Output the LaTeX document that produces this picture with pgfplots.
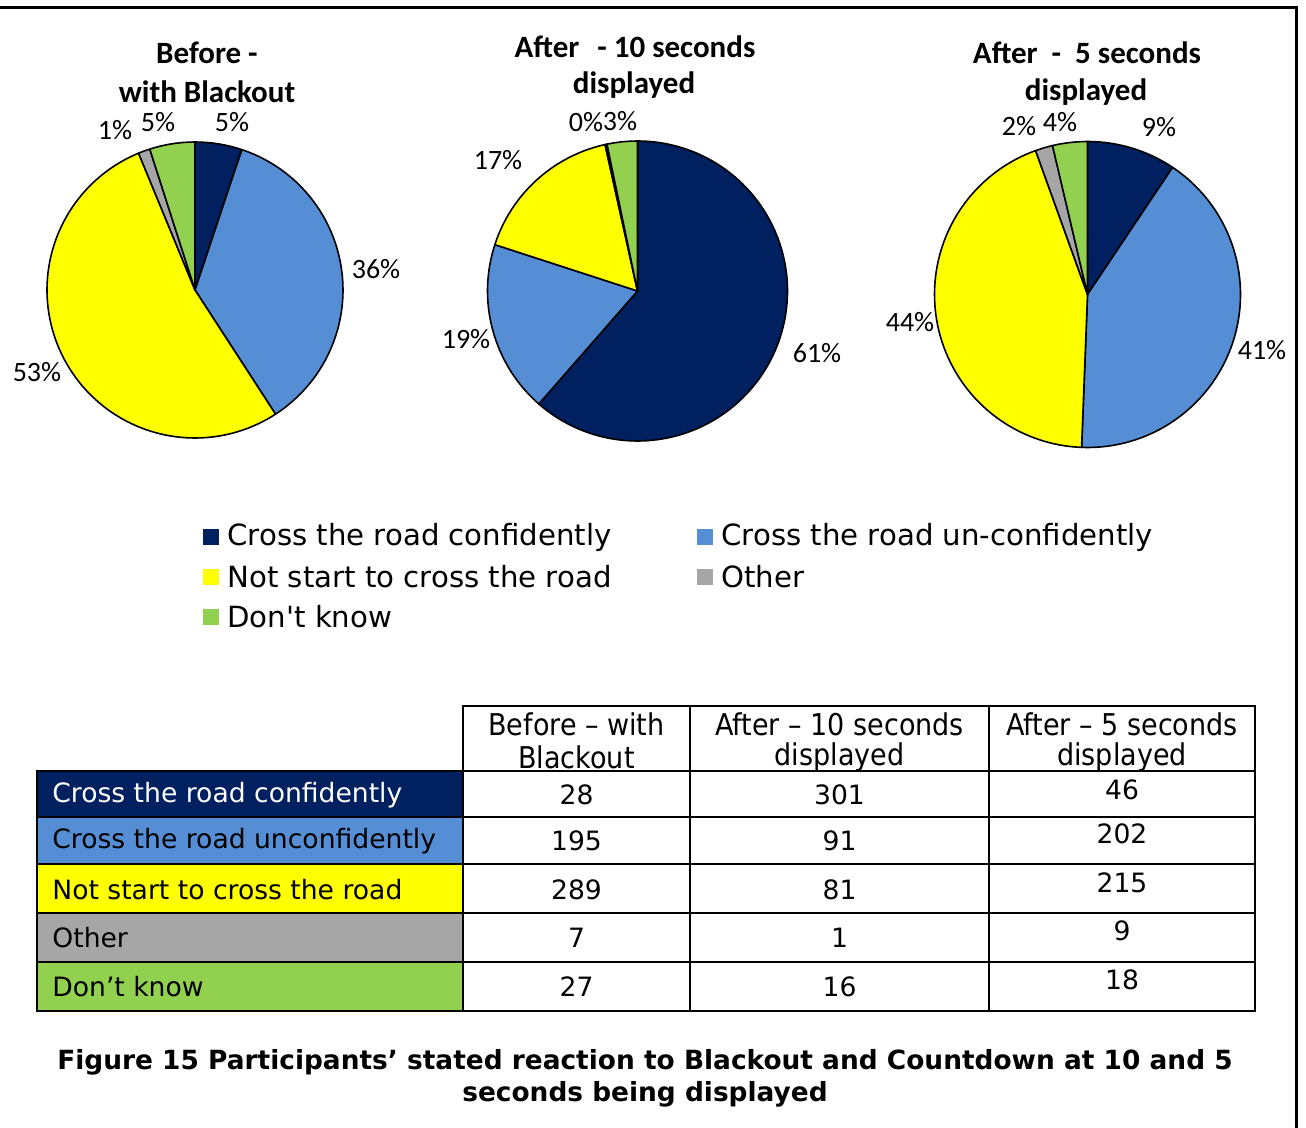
\documentclass[border=0pt]{standalone}
\usepackage{fontspec}
\setmainfont{DejaVu Sans}
\newfontfamily\calfont{Carlito}
\usepackage{pgfplots}
\usepackage{pgfplotstable}
\pgfplotsset{compat=1.18}

\definecolor{pie0}{HTML}{002060}
\definecolor{pie1}{HTML}{558ED5}
\definecolor{pie2}{HTML}{FFFF00}
\definecolor{pie3}{HTML}{A6A6A6}
\definecolor{pie4}{HTML}{92D050}

% counts per reaction (rows) and condition (columns)
\pgfplotstableread{
row before after10 after5
0   28     301     46
1   195    91      202
2   289    81      215
3   7      1       9
4   27     16      18
}\counts

% one filled slice per row, clockwise from 12 o'clock
\newcommand\pieslices[1]{%
  \def\pietotal{0}%
  \pgfplotsforeachungrouped \ri in {0,1,2,3,4}{%
    \pgfplotstablegetelem{\ri}{#1}\of\counts
    \pgfmathsetmacro\pietotal{\pietotal+\pgfplotsretval}}%
  \def\piecum{0}%
  \pgfplotsforeachungrouped \ri in {0,1,2,3,4}{%
    \pgfplotstablegetelem{\ri}{#1}\of\counts
    \pgfmathsetmacro\aend{90-360*(\piecum/\pietotal)}%
    \pgfmathsetmacro\piecum{\piecum+\pgfplotsretval}%
    \pgfmathsetmacro\astart{90-360*(\piecum/\pietotal)}%
    \pgfmathtruncatemacro\ns{max(3,(\aend-\astart)/2)}%
    \edef\tmp{\noexpand\addplot[data cs=polar, fill=pie\ri, draw=black,
      line width=0.8pt, line join=round, domain=\astart:\aend, samples=\ns]
      ({x},{1}) -- (axis cs:0,0) -- cycle;}%
    \tmp}%
}

\pgfplotsset{pie/.style={hide axis, scale only axis, anchor=center,
  xmin=-1, xmax=1, ymin=-1, ymax=1, clip=false}}

\newcommand\lab{\calfont\fontsize{14}{16}\selectfont}
\newcommand\ttl{\calfont\bfseries\fontsize{15.5}{18}\selectfont}

\begin{document}
\begin{tikzpicture}
\useasboundingbox (0,0) rectangle (653pt,-564pt);

\begin{axis}[pie, at={(97.5pt,-145pt)}, width=148pt, height=148pt]
\pieslices{before}
\end{axis}
\begin{axis}[pie, at={(318.75pt,-145.5pt)}, width=150pt, height=150pt]
\pieslices{after10}
\end{axis}
\begin{axis}[pie, at={(543.75pt,-147.25pt)}, width=153pt, height=153pt]
\pieslices{after5}
\end{axis}

\begin{scope}[x=0.5pt, y=-0.5pt, every node/.style={inner sep=0pt}]
% frame
\draw[line width=1.5pt] (0,7.5) -- (1296,7.5) -- (1296,1128);

% pie titles
\node[font=\ttl] at (207,53) {Before -};
\node[font=\ttl] at (207,92) {with Blackout};
\node[font=\ttl] at (635,47) {After\hspace{9pt}- 10 seconds};
\node[font=\ttl] at (634,85) {displayed};
\node[font=\ttl] at (1087,53) {After\ \ -\ \ 5 seconds};
\node[font=\ttl] at (1086,92) {displayed};

% pie labels
\node[font=\lab] at (232,122) {5\%};
\node[font=\lab] at (376,269) {36\%};
\node[font=\lab] at (37,372) {53\%};
\node[font=\lab] at (115,130) {1\%};
\node[font=\lab] at (158,122) {5\%};
\node[font=\lab] at (817,353) {61\%};
\node[font=\lab] at (466,339) {19\%};
\node[font=\lab] at (498,160) {17\%};
\node[font=\lab] at (586,122) {0\%};
\node[font=\lab] at (620,121) {3\%};
\node[font=\lab] at (1159,127) {9\%};
\node[font=\lab] at (1262,350) {41\%};
\node[font=\lab] at (910,322) {44\%};
\node[font=\lab] at (1019,126) {2\%};
\node[font=\lab] at (1060,122) {4\%};

% legend
\begin{scope}[every node/.append style={font=\fontsize{14.6}{17}\selectfont, anchor=west}]
\fill[pie0] (203,529) rectangle (219,545); \node at (227,537) {Cross the road confidently};
\fill[pie1] (697,529) rectangle (713,545); \node at (721,537) {Cross the road un-confidently};
\fill[pie2] (203,569) rectangle (219,585); \node at (227,577) {Not start to cross the road};
\fill[pie3] (697,569) rectangle (713,585); \node at (721,577) {Other};
\fill[pie4] (203,609) rectangle (219,625); \node at (227,617) {Don{\addfontfeatures{Ligatures=TeXOff}'}t know};
\end{scope}

% table
\fill[pie0] (37,771) rectangle (463,817);
\fill[pie1] (37,817) rectangle (463,864);
\fill[pie2] (37,864) rectangle (463,913);
\fill[pie3] (37,913) rectangle (463,962);
\fill[pie4] (37,962) rectangle (463,1011);
\draw[line width=1pt] (463,706) rectangle (1255,1011);
\draw[line width=1pt] (37,771) rectangle (463,1011);
\foreach \yy in {771,817,864,913,962} \draw[line width=1pt] (37,\yy) -- (1255,\yy);
\foreach \xx in {690,989} \draw[line width=1pt] (\xx,706) -- (\xx,1011);

\begin{scope}[every node/.append style={font=\fontsize{15}{17}\selectfont}]
\node at (576.5,724) {\scalebox{0.9}[1]{Before – with}};
\node at (576.5,757) {\scalebox{0.9}[1]{Blackout}};
\node at (839.5,724) {\scalebox{0.9}[1]{After – 10 seconds}};
\node at (839.5,757) {\scalebox{0.9}[1]{displayed}};
\node at (1122,724) {\scalebox{0.9}[1]{After – 5 seconds}};
\node at (1122,757) {\scalebox{0.9}[1]{displayed}};
\end{scope}

\begin{scope}[every node/.append style={font=\fontsize{13.3}{16}\selectfont}]
\node[anchor=west, text=white] at (52,795) {Cross the road confidently};
\node[anchor=west] at (52,841) {Cross the road unconfidently};
\node[anchor=west] at (52,890) {Not start to cross the road};
\node[anchor=west] at (52,938) {Other};
\node[anchor=west] at (52,987) {Don’t know};
\node at (576.5,795) {28};  \node at (839.5,795) {301}; \node at (1122,790) {46};
\node at (576.5,841) {195}; \node at (839.5,841) {91};  \node at (1122,834) {202};
\node at (576.5,890) {289}; \node at (839.5,890) {81};  \node at (1122,883) {215};
\node at (576.5,938) {7};   \node at (839.5,938) {1};   \node at (1122,931) {9};
\node at (576.5,987) {27};  \node at (839.5,987) {16};  \node at (1122,980) {18};
\end{scope}

% caption
\node[font=\bfseries\fontsize{13.2}{15}\selectfont] at (645,1062) {Figure 15 Participants’ stated reaction to Blackout and Countdown at 10 and 5};
\node[font=\bfseries\fontsize{13.2}{15}\selectfont] at (645,1094) {seconds being displayed};
\end{scope}
\end{tikzpicture}
\end{document}
